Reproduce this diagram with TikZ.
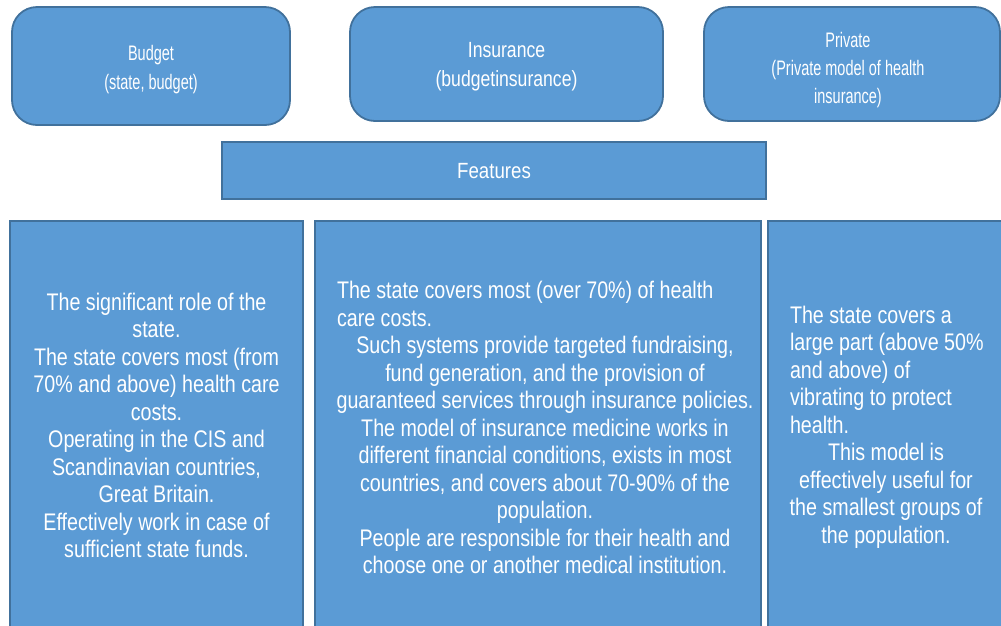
\documentclass[tikz,border=0pt]{standalone}
\usepackage{fontspec}
\setmainfont{Liberation Sans}[FakeStretch=0.82]
\newfontfamily\narrowA{Liberation Sans}[FakeStretch=0.69]
\newfontfamily\narrowB{Liberation Sans}[FakeStretch=0.80]
\newfontfamily\narrowC{Liberation Sans}[FakeStretch=0.85]
\definecolor{boxfill}{HTML}{5B9BD5}
\definecolor{boxline}{HTML}{41719C}
\begin{document}
\begin{tikzpicture}[x=1pt,y=-1pt,
  box/.style={draw=boxline, line width=1.8pt, fill=boxfill, text=white, inner sep=0pt, align=center},
  topbox/.style={box, rounded corners=25pt},
  label/.style={text=white, inner sep=0pt, align=center},
  bodytext/.style={label, font=\fontsize{24}{27.5}\selectfont}]
\useasboundingbox (0,0) rectangle (1001,625);
% top boxes
\node[topbox, minimum width=278pt, minimum height=118pt] (budget) at (151,66) {};
\node[topbox, minimum width=313pt, minimum height=114pt] (insurance) at (506.5,64) {};
\node[topbox, minimum width=296pt, minimum height=114pt] (private) at (852,64) {};
\node[box, minimum width=544pt, minimum height=57pt] (features) at (494,170.5) {};
\node[label, font=\narrowA\fontsize{21}{29}\selectfont] (budgettitle) at ([yshift=-4pt]budget.center) {Budget\\(state, budget)};
\node[label, font=\narrowB\fontsize{22}{29}\selectfont] (insurancetitle) at ([yshift=-3pt]insurance.center) {Insurance\\(budgetinsurance)};
\node[label, font=\narrowA\fontsize{21}{28}\selectfont] (privatetitle) at ([xshift=-4pt,yshift=-6pt]private.center) {Private\\(Private model of health\\insurance)};
\node[label, font=\narrowC\fontsize{22}{25}\selectfont] (featurestitle) at ([yshift=-1pt]features.center) {Features};
% bottom boxes
\node[box, minimum width=293pt, minimum height=411pt] (budgetbox) at (156.5,426.5) {};
\node[box, minimum width=446pt, minimum height=411pt] (insurancebox) at (538,426.5) {};
\node[box, minimum width=244pt, minimum height=411pt] (privatebox) at (890,426.5) {};
% body texts
\node[bodytext] (budgettext) at (156.5,425.5) {The significant role of the\\state.\\The state covers most (from\\70\% and above) health care\\costs.\\Operating in the CIS and\\Scandinavian countries,\\Great Britain.\\Effectively work in case of\\sufficient state funds.};
\node[bodytext] (insurancetext) at (545,427.5) {\makebox[416pt][l]{The state covers most (over 70\%) of health}\\\makebox[416pt][l]{care costs.}\\Such systems provide targeted fundraising,\\fund generation, and the provision of\\guaranteed services through insurance policies.\\The model of insurance medicine works in\\different financial conditions, exists in most\\countries, and covers about 70-90\% of the\\population.\\People are responsible for their health and\\choose one or another medical institution.};
\node[bodytext] (privatetext) at (886,427) {\makebox[192pt][l]{The state covers a}\\\makebox[192pt][l]{large part (above 50\%}\\\makebox[192pt][l]{and above) of}\\\makebox[192pt][l]{vibrating to protect}\\\makebox[192pt][l]{health.}\\This model is\\effectively useful for\\the smallest groups of\\the population.};
\end{tikzpicture}
\end{document}
